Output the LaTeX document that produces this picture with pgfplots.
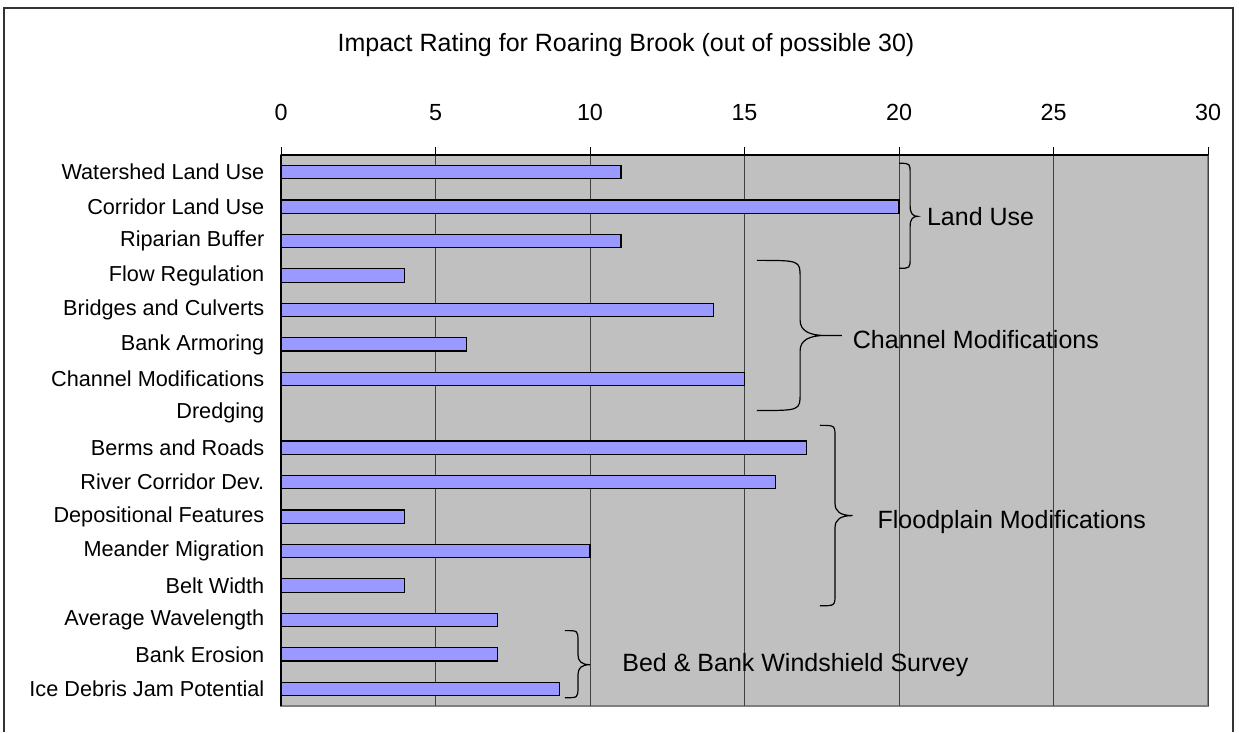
\documentclass[border=0pt]{standalone}
\usepackage{pgfplots}
\pgfplotsset{compat=1.18}
\usepackage{fontspec}
\setmainfont{Liberation Sans}
\definecolor{plotbg}{HTML}{C0C0C0}
\definecolor{barfill}{HTML}{9999FF}
\begin{document}
\begin{tikzpicture}
\path[fill=white] (0,0) rectangle (929.25pt,-549pt);
\draw[line width=1pt, black!80] (3pt,-549pt) -- (3pt,-6pt) -- (924.75pt,-6pt) -- (924.75pt,-549pt);
\node[font=\fontsize{18.75}{22}\selectfont] at (469.5pt,-33.75pt) {Impact Rating for Roaring Brook (out of possible 30)};
\begin{axis}[
  at={(210.75pt,-116.25pt)}, anchor=north west,
  width=695.25pt, height=413.25pt, scale only axis,
  xbar, bar width=10pt,
  xmin=0, xmax=30, ymin=-0.5, ymax=15.5,
  y dir=reverse,
  axis x line*=top, axis y line*=left,
  axis line style={black, line width=0.8pt},
  x axis line style={-}, y axis line style={-},
  axis background/.style={fill=plotbg, draw=black!50, line width=1pt},
  xtick={0,5,...,30}, xticklabel pos=top,
  tick align=outside, major tick length=6pt,
  xtick style={black, line width=0.6pt},
  ytick={0,...,15}, ytick style={draw=none},
  yticklabels={Watershed Land Use, Corridor Land Use, Riparian Buffer, Flow Regulation, Bridges and Culverts, Bank Armoring, Channel Modifications, Dredging, Berms and Roads, River Corridor Dev., Depositional Features, Meander Migration, Belt Width, Average Wavelength, Bank Erosion, Ice Debris Jam Potential},
  xmajorgrids, grid style={black!75, line width=0.6pt},
  /pgf/number format/assume math mode=true,
  xticklabel style={font=\fontsize{17.5}{19}\selectfont, yshift=16pt},
  yticklabel style={font=\fontsize{16.25}{18}\selectfont, xshift=-3pt},
  clip=false,
]
\addplot[fill=barfill, draw=black, line width=0.9pt] coordinates {
(11,0) (20,1) (11,2) (4,3) (14,4) (6,5) (15,6) (0,7) (17,8) (16,9) (4,10) (10,11) (4,12) (7,13) (7,14) (9,15)};
% braces
\draw[black, line width=0.9pt] (axis cs:20,-0.26) .. controls (axis cs:20.36,-0.26) .. (axis cs:20.36,0.04) -- (axis cs:20.36,0.98) .. controls (axis cs:20.36,1.2) and (axis cs:20.45,1.28) .. (axis cs:20.6,1.28) .. controls (axis cs:20.45,1.28) and (axis cs:20.36,1.36) .. (axis cs:20.36,1.58) -- (axis cs:20.36,2.49) .. controls (axis cs:20.36,2.79) .. (axis cs:20,2.79);
\draw[black, line width=0.9pt] (axis cs:15.4,2.56) .. controls (axis cs:16.8,2.56) .. (axis cs:16.8,3.06) -- (axis cs:16.8,4.3) .. controls (axis cs:16.8,4.6) and (axis cs:17.1,4.74) .. (axis cs:17.6,4.74) -- (axis cs:18.15,4.74) -- (axis cs:17.6,4.74) .. controls (axis cs:17.1,4.74) and (axis cs:16.8,4.88) .. (axis cs:16.8,5.18) -- (axis cs:16.8,6.42) .. controls (axis cs:16.8,6.92) .. (axis cs:15.4,6.92);
\draw[black, line width=0.9pt] (axis cs:17.44,7.35) .. controls (axis cs:17.93,7.35) .. (axis cs:17.93,7.7) -- (axis cs:17.93,9.62) .. controls (axis cs:17.93,9.85) and (axis cs:18.1,9.97) .. (axis cs:18.5,9.97) .. controls (axis cs:18.1,9.97) and (axis cs:17.93,10.09) .. (axis cs:17.93,10.32) -- (axis cs:17.93,12.24) .. controls (axis cs:17.93,12.59) .. (axis cs:17.44,12.59);
\draw[black, line width=0.9pt] (axis cs:9.19,13.31) .. controls (axis cs:9.61,13.31) .. (axis cs:9.61,13.61) -- (axis cs:9.61,14.0) .. controls (axis cs:9.61,14.2) and (axis cs:9.72,14.3) .. (axis cs:10.0,14.3) .. controls (axis cs:9.72,14.3) and (axis cs:9.61,14.4) .. (axis cs:9.61,14.6) -- (axis cs:9.61,14.96) .. controls (axis cs:9.61,15.26) .. (axis cs:9.19,15.26);
\node[anchor=west, font=\fontsize{18.75}{22}\selectfont, inner sep=0pt] at (axis cs:20.9,1.28) {Land Use};
\node[anchor=west, font=\fontsize{18.75}{22}\selectfont, inner sep=0pt] at (axis cs:18.5,4.85) {Channel Modifications};
\node[anchor=west, font=\fontsize{18.75}{22}\selectfont, inner sep=0pt] at (axis cs:19.3,10.15) {Floodplain Modifications};
\node[anchor=west, font=\fontsize{18.75}{22}\selectfont, inner sep=0pt] at (axis cs:11.04,14.3) {Bed \& Bank Windshield Survey};
\end{axis}
\end{tikzpicture}
\end{document}
